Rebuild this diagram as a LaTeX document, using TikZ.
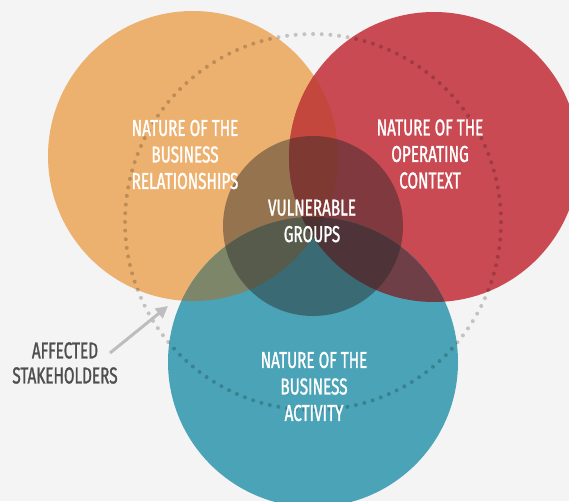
\documentclass[tikz,border=0pt]{standalone}
\usepackage{fontspec}
\setmainfont{Fira Sans}[FakeStretch=0.665, FakeBold=1.2]
\usetikzlibrary{arrows.meta}
\definecolor{bg}{HTML}{F4F4F4}
\definecolor{corange}{HTML}{EDB16F}
\definecolor{cred}{HTML}{C94A52}
\definecolor{cteal}{HTML}{4AA3B6}
\definecolor{cor}{HTML}{C3473C}
\definecolor{cot}{HTML}{7D8669}
\definecolor{crt}{HTML}{6F3F48}
\definecolor{cort}{HTML}{6A3A3A}
\definecolor{ccore}{HTML}{282828}
\definecolor{darktext}{HTML}{4E4E4E}
\definecolor{arrowgray}{HTML}{BDBDBD}
\tikzset{
  lbl/.style={text=white, align=center, inner sep=0pt, font=\fontsize{23}{26.5}\selectfont},
  dlbl/.style={text=darktext, align=center, inner sep=0pt, font=\fontsize{23}{25}\selectfont},
  dots/.style={draw=black, draw opacity=0.2, line width=4pt, line cap=round, dash pattern=on 0pt off 8.685pt},
  pointer/.style={draw=arrowgray, line width=3pt, -{Triangle[length=12pt,width=12pt]}}
}
\begin{document}
\begin{tikzpicture}[x=1pt,y=-1pt]
\useasboundingbox (0,0) rectangle (569,501);
\fill[bg] (0,0) rectangle (569,501);
\coordinate (O) at (193,156);
\coordinate (R) at (434,157);
\coordinate (T) at (313,362);
\coordinate (C) at (313,226);
\coordinate (D) at (313,222);
\begin{scope}
\clip (0,0) rectangle (569,501);
\fill[corange] (O) circle[radius=145pt];
\fill[cred] (R) circle[radius=145pt];
\fill[cteal] (T) circle[radius=145pt];
\begin{scope}
\clip (O) circle[radius=145pt];
\fill[cor] (R) circle[radius=145pt];
\fill[cot] (T) circle[radius=145pt];
\clip (R) circle[radius=145pt];
\fill[cort] (T) circle[radius=145pt];
\end{scope}
\begin{scope}
\clip (R) circle[radius=145pt];
\clip (T) circle[radius=145pt];
\fill[crt] (R) circle[radius=145pt];
\clip (O) circle[radius=145pt];
\fill[cort] (T) circle[radius=145pt];
\end{scope}
\fill[ccore, fill opacity=0.45] (C) circle[radius=90pt];
\path[dots] (D) circle[radius=188pt];
\end{scope}
\node[lbl] (rel) at (185,154.5) {NATURE OF THE\\BUSINESS\\RELATIONSHIPS};
\node[lbl] (ctx) at (430,154) {NATURE OF THE\\OPERATING\\CONTEXT};
\node[lbl] (vul) at (312,221) {VULNERABLE\\GROUPS};
\node[lbl] (act) at (314,386.5) {NATURE OF THE\\BUSINESS\\ACTIVITY};
\node[dlbl] (aff) at (65,363) {AFFECTED\\STAKEHOLDERS};
\coordinate (atail) at (110,353);
\coordinate (ahead) at (168,306);
\draw[pointer] (atail) -- (ahead);
\end{tikzpicture}
\end{document}
